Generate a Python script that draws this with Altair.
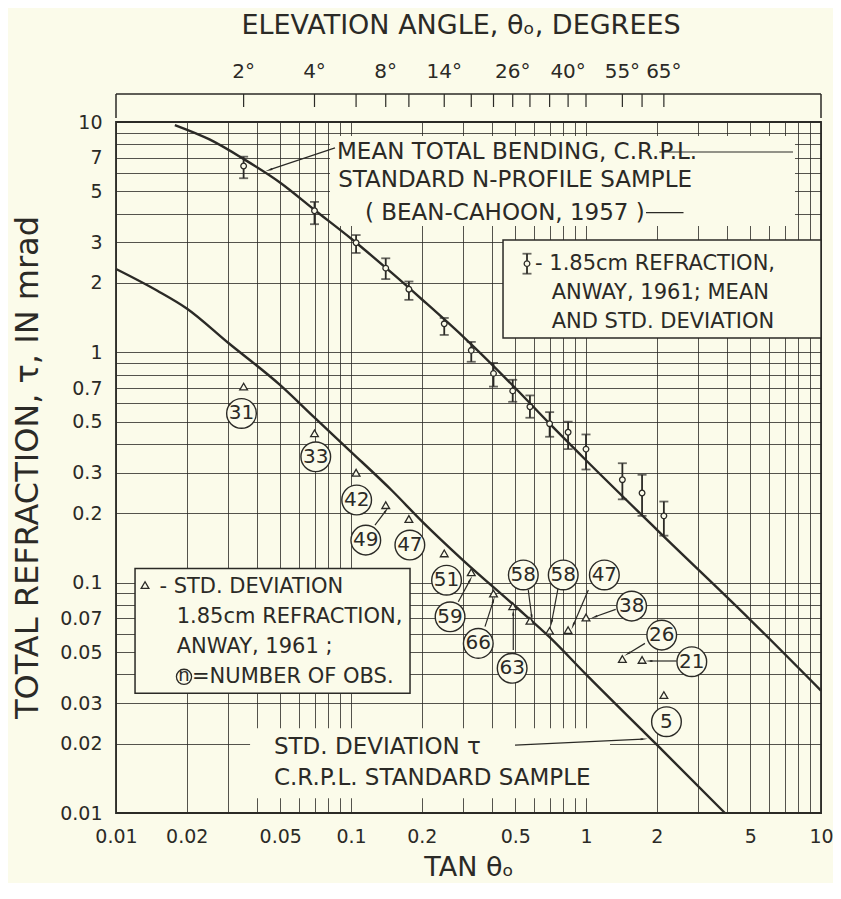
import math
import json
import altair as alt
import pandas as pd

INK = "#2b2a26"
BG = "#fbfbea"
FONT = "DejaVu Sans"

# ---------------- values ----------------
# 1.85 cm refraction observations (Anway, 1961), by elevation angle (degrees)
obs_deg = [2, 4, 6, 8, 10, 14, 18, 22, 26, 30, 35, 40, 45, 55, 60, 65]
mean_tau = [6.44, 4.12, 2.99, 2.32, 1.88, 1.33, 1.02, 0.81, 0.68, 0.58, 0.49, 0.45, 0.38, 0.28, 0.245, 0.195]
mean_lo = [5.70, 3.60, 2.70, 2.08, 1.69, 1.19, 0.91, 0.71, 0.61, 0.52, 0.43, 0.38, 0.31, 0.23, 0.195, 0.160]
mean_hi = [7.07, 4.50, 3.23, 2.56, 2.03, 1.41, 1.11, 0.90, 0.76, 0.65, 0.55, 0.50, 0.44, 0.33, 0.294, 0.225]
std_tau = [0.71, 0.445, 0.30, 0.217, 0.189, 0.134, 0.111, 0.0897, 0.079, 0.0683, 0.0618, 0.0622, 0.0706, 0.0466, 0.0462, 0.0325]
n_obs = [31, 33, 42, 49, 47, 51, 59, 66, 63, 58, 58, 47, 38, 26, 21, 5]
# where each circled count is written (data coordinates)
n_lab_x = [0.0342, 0.0708, 0.1057, 0.1156, 0.178, 0.255, 0.264, 0.348, 0.485, 0.541, 0.80, 1.197, 1.564, 2.10, 2.82, 2.20]
n_lab_y = [0.543, 0.352, 0.2285, 0.153, 0.1456, 0.1025, 0.0711, 0.0545, 0.0425, 0.108, 0.108, 0.108, 0.0791, 0.0592, 0.0454, 0.0249]

# Mean total bending, C.R.P.L. standard N-profile sample
bend_x = [0.0178, 0.025, 0.035, 0.05, 0.07, 0.1, 0.15, 0.2, 0.3, 0.5, 0.7, 1.0, 2.0, 5.0, 10.0]
bend_y = [9.7, 8.4, 6.9, 5.45, 4.15, 3.12, 2.2, 1.7, 1.17, 0.70, 0.49, 0.34, 0.17, 0.069, 0.034]
# Std. deviation of tau, C.R.P.L. standard sample
sd_x = [0.01, 0.015, 0.02, 0.03, 0.05, 0.07, 0.1, 0.15, 0.2, 0.3, 0.5, 0.7, 1.0, 2.0, 3.9]
sd_y = [2.3, 1.85, 1.55, 1.1, 0.72, 0.52, 0.37, 0.25, 0.185, 0.125, 0.079, 0.058, 0.040, 0.0198, 0.0100]

# annotation arrows (start -> end, data coordinates)
arr_x1 = [0.1265, 0.2862, 0.3717, 0.4904, 0.568, 0.7624, 1.023, 1.338, 1.782, 2.432, 0.0855, 0.4989]
arr_y1 = [0.1778, 0.0826, 0.0644, 0.0510, 0.0929, 0.0960, 0.0929, 0.0766, 0.0545, 0.0457, 7.72, 0.0197]
arr_x2 = [0.1405, 0.3209, 0.4032, 0.4904, 0.5875, 0.7145, 0.8831, 1.092, 1.514, 1.872, 0.0452, 1.748]
arr_y2 = [0.205, 0.1026, 0.0834, 0.0736, 0.0711, 0.0676, 0.0655, 0.0711, 0.0493, 0.0457, 6.21, 0.02094]
# short leader dashes after the upper text lines
dash_x1 = [2.05, 1.80]
dash_x2 = [7.6, 2.60]
dash_y = [7.41, 4.04]

# axis ticks / labels
top_tick_deg = [2, 4, 6, 8, 10, 14, 18, 22, 26, 30, 35, 40, 45, 55, 60, 65]
top_label_deg = [2, 4, 8, 14, 26, 40, 55, 65]
x_label_vals = [0.01, 0.02, 0.05, 0.1, 0.2, 0.5, 1, 2, 5, 10]
y_label_vals = [0.01, 0.02, 0.03, 0.05, 0.07, 0.1, 0.2, 0.3, 0.5, 0.7, 1, 2, 3, 5, 7, 10]

# text annotations
up_text = ["MEAN TOTAL BENDING, C.R.P.L.", "STANDARD N-PROFILE SAMPLE", "( BEAN-CAHOON, 1957 )"]
up_x = [0.0872, 0.0882, 0.1147]
up_y = [7.41, 5.61, 4.04]
leg_text = ["- 1.85cm REFRACTION,", "ANWAY, 1961; MEAN", "AND STD. DEVIATION",
            "-  STD. DEVIATION", "1.85cm REFRACTION,", "ANWAY, 1961 ;", "=NUMBER OF OBS."]
leg_x = [0.607, 0.7145, 0.7145, 0.0153, 0.01813, 0.01813, 0.02106]
leg_y = [2.427, 1.815, 1.358, 0.0960, 0.0711, 0.0527, 0.0390]
low_text = ["STD. DEVIATION  τ", "C.R.P.L. STANDARD SAMPLE"]
low_x = [0.047, 0.047]
low_y = [0.01939, 0.01417]

# ---------------- build tables ----------------
tan_obs = [math.tan(math.radians(d)) for d in obs_deg]
obs = pd.DataFrame({"x": tan_obs, "mean": mean_tau, "lo": mean_lo, "hi": mean_hi,
                    "sd": std_tau, "n": [str(v) for v in n_obs], "lx": n_lab_x, "ly": n_lab_y})
bend = pd.DataFrame({"x": bend_x, "y": bend_y})
sdc = pd.DataFrame({"x": sd_x, "y": sd_y})


def head_angle(x1, y1, x2, y2):
    dx = (math.log10(x2) - math.log10(x1)) * 235.0
    dy = -(math.log10(y2) - math.log10(y1)) * 230.3
    return math.degrees(math.atan2(dx, -dy)) % 360


arrows = pd.DataFrame({"x": arr_x1, "y": arr_y1, "x2": arr_x2, "y2": arr_y2})
arrows["ang"] = [head_angle(a, b, c, d) for a, b, c, d in zip(arr_x1, arr_y1, arr_x2, arr_y2)]
dashes = pd.DataFrame({"x": dash_x1, "x2": dash_x2, "y": dash_y})
up_ann = pd.DataFrame({"x": up_x, "y": up_y, "t": up_text})
leg_ann = pd.DataFrame({"x": leg_x, "y": leg_y, "t": leg_text})
low_ann = pd.DataFrame({"x": low_x, "y": low_y, "t": low_text})

masks = pd.DataFrame({"x": [0.0814, 0.0372], "x2": [7.75, 1.265], "y": [8.69, 0.02336], "y2": [3.536, 0.0116]})
boxes = pd.DataFrame({"x": [0.4435, 0.01205], "x2": [10.0, 0.1783], "y": [3.075, 0.1153], "y2": [1.154, 0.0331]})
leg_bar = pd.DataFrame({"x": [0.561], "m": [2.427], "lo": [2.195], "hi": [2.68]})
leg_tri = pd.DataFrame({"x": [0.01329], "y": [0.0976]})
leg_n = pd.DataFrame({"x": [0.01947], "y": [0.0390], "t": ["n"]})

grid_vals = sorted({round(m * 10 ** e, 6) for e in (-2, -1, 0) for m in range(1, 10)} | {10.0})

xlabel_expr = f"indexof({json.dumps(x_label_vals)}, datum.value) >= 0 ? datum.value + '' : ''"
ylabel_expr = f"indexof({json.dumps(y_label_vals)}, datum.value) >= 0 ? datum.value + '' : ''"

XS = alt.Scale(type="log", domain=[0.01, 10], nice=False)
YS = alt.Scale(type="log", domain=[0.01, 10], nice=False)
XAX = alt.Axis(values=grid_vals, labelExpr=xlabel_expr, grid=True, ticks=False, domain=False,
               labelFontSize=19, labelPadding=14, labelFlush=False, labelOverlap=False,
               title="TAN  θₒ", titleFontSize=27, titleFontWeight="normal", titlePadding=8)
YAX = alt.Axis(values=grid_vals, labelExpr=ylabel_expr, grid=True, ticks=False, domain=False,
               labelFontSize=19, labelPadding=14, labelFlush=False, labelOverlap=False,
               title="TOTAL REFRACTION, τ, IN mrad", titleFontSize=32, titleFontWeight="normal",
               titleX=-89, titleY=345, titleAngle=270, titleAlign="center", titleBaseline="middle")


def X(f):
    return alt.X(f, type="quantitative", scale=XS, axis=XAX)


def Y(f):
    return alt.Y(f, type="quantitative", scale=YS, axis=YAX)


layers = []
# masks behind text (hide grid)
layers.append(alt.Chart(masks).mark_rect(color=BG, strokeWidth=0).encode(
    x=X("x"), x2="x2", y=Y("y"), y2="y2"))
# legend boxes
layers.append(alt.Chart(boxes).mark_rect(fill=BG, stroke=INK, strokeWidth=1.5).encode(
    x=X("x"), x2="x2", y=Y("y"), y2="y2"))
# curves
layers.append(alt.Chart(bend).mark_line(color=INK, strokeWidth=2.4, interpolate="monotone").encode(
    x=X("x"), y=Y("y")))
layers.append(alt.Chart(sdc).mark_line(color=INK, strokeWidth=2.4, interpolate="monotone").encode(
    x=X("x"), y=Y("y")))
# error bars
for d in (obs, leg_bar):
    mcol = "mean" if "mean" in d.columns else "m"
    layers.append(alt.Chart(d).mark_rule(color=INK, strokeWidth=1.8).encode(x=X("x"), y=Y("lo"), y2="hi"))
    layers.append(alt.Chart(d).mark_tick(color=INK, orient="horizontal", size=9, thickness=1.8).encode(x=X("x"), y=Y("lo")))
    layers.append(alt.Chart(d).mark_tick(color=INK, orient="horizontal", size=9, thickness=1.8).encode(x=X("x"), y=Y("hi")))
    layers.append(alt.Chart(d).mark_point(shape="circle", filled=True, fill=BG, stroke=INK, strokeWidth=1.3,
                                          size=32, opacity=1).encode(x=X("x"), y=Y(mcol)))
# std-deviation triangles
layers.append(alt.Chart(obs).mark_point(shape="triangle-up", filled=True, fill=BG, stroke=INK, strokeWidth=1.3,
                                        size=60, opacity=1).encode(x=X("x"), y=Y("sd")))
layers.append(alt.Chart(leg_tri).mark_point(shape="triangle-up", filled=True, fill=BG, stroke=INK, strokeWidth=1.3,
                                            size=60, opacity=1).encode(x=X("x"), y=Y("y")))
# arrows and dashes
layers.append(alt.Chart(arrows).mark_rule(color=INK, strokeWidth=1.2).encode(
    x=X("x"), y=Y("y"), x2="x2", y2="y2"))
layers.append(alt.Chart(arrows).mark_point(shape="wedge", filled=True, color=INK, size=70, opacity=1).encode(
    x=X("x2"), y=Y("y2"), angle=alt.Angle("ang:Q", scale=None)))
layers.append(alt.Chart(dashes).mark_rule(color=INK, strokeWidth=1.2).encode(
    x=X("x"), x2="x2", y=Y("y")))
# circled counts
layers.append(alt.Chart(obs).mark_point(shape="circle", filled=True, fill=BG, stroke=INK, strokeWidth=1.4,
                                        size=880, opacity=1).encode(x=X("lx"), y=Y("ly")))
layers.append(alt.Chart(obs).mark_text(font=FONT, fontSize=20, color=INK, align="center", baseline="middle").encode(
    x=X("lx"), y=Y("ly"), text="n:N"))
# circled n in legend
layers.append(alt.Chart(leg_n).mark_point(shape="circle", filled=True, fill=BG, stroke=INK, strokeWidth=1.3,
                                          size=230, opacity=1).encode(x=X("x"), y=Y("y")))
layers.append(alt.Chart(leg_n).mark_text(font=FONT, fontSize=18, color=INK, align="center", baseline="middle", dy=-1).encode(
    x=X("x"), y=Y("y"), text="t:N"))
# annotation texts
layers.append(alt.Chart(up_ann).mark_text(font=FONT, fontSize=23, color=INK, align="left", baseline="middle").encode(
    x=X("x"), y=Y("y"), text="t:N"))
layers.append(alt.Chart(leg_ann).mark_text(font=FONT, fontSize=21, color=INK, align="left", baseline="middle").encode(
    x=X("x"), y=Y("y"), text="t:N"))
layers.append(alt.Chart(low_ann).mark_text(font=FONT, fontSize=23, color=INK, align="left", baseline="middle").encode(
    x=X("x"), y=Y("y"), text="t:N"))

# top elevation-angle strip
strip = pd.DataFrame({"x": [0.01], "x2": [10.0]})
layers.append(alt.Chart(strip).mark_rule(color=INK, strokeWidth=1.5).encode(
    x=X("x"), x2="x2", y=alt.value(-28)))
sides = pd.DataFrame({"x": [0.01, 10.0]})
layers.append(alt.Chart(sides).mark_rule(color=INK, strokeWidth=1.5).encode(
    x=X("x"), y=alt.value(-28), y2=alt.value(-4)))
tt = pd.DataFrame({"x": [math.tan(math.radians(d)) for d in top_tick_deg]})
layers.append(alt.Chart(tt).mark_rule(color=INK, strokeWidth=1.2).encode(
    x=X("x"), y=alt.value(-28), y2=alt.value(-15)))
tl = pd.DataFrame({"x": [math.tan(math.radians(d)) for d in top_label_deg],
                   "t": [f"{d}°" for d in top_label_deg]})
layers.append(alt.Chart(tl).mark_text(font=FONT, fontSize=20, color=INK, baseline="middle").encode(
    x=X("x"), y=alt.value(-50), text="t:N"))
ttl = pd.DataFrame({"t": ["ELEVATION  ANGLE,  θₒ,  DEGREES"]})
layers.append(alt.Chart(ttl).mark_text(font=FONT, fontSize=27, color=INK, baseline="middle").encode(
    x=alt.value(345), y=alt.value(-96), text="t:N"))

chart = alt.layer(*layers).properties(
    width=705, height=691,
    padding={"left": 108, "top": 114, "right": 12, "bottom": 70},
    autosize=alt.AutoSizeParams(type="none"),
    background=BG,
).configure_view(stroke=INK, strokeWidth=1.8).configure_axis(
    gridColor=INK, gridWidth=0.9, gridOpacity=0.9, labelColor=INK, titleColor=INK,
    labelFont=FONT, titleFont=FONT,
)

chart.save("out.html", embed_options={"renderer": "svg", "actions": False})
